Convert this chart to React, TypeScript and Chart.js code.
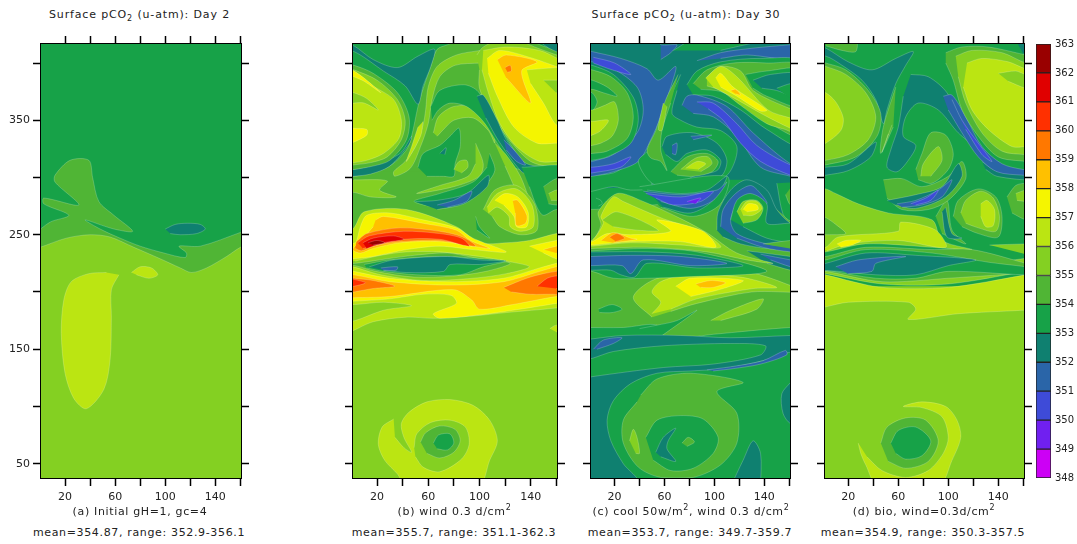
import React, { useEffect, useRef } from "react";
import { Chart, registerables } from "chart.js";
Chart.register(...registerables);

const LEVELS = [348,349,350,351,352,353,354,355,356,357,358,359,360,361,362];
const COLORS = ["#cc00f5","#7020f0","#3e4bd8","#2a65a8","#0f8070","#17a248","#50b535","#84d022","#bbe512","#f5f500","#ffc000","#ff7800","#ff3000","#e00000","#990000"];
const colorOf = (l:number)=>COLORS[l-348];
const X_TICKS = [20,40,60,80,100,120,140,160];
const X_LABELS = [20,60,100,140];
const Y_TICKS = [50,100,150,200,250,300,350,400];
const Y_LABELS = [50,150,250,350];
const ALL = [-10,430, 170,430, 170,20, -10,20];

type S = [number, number[], number?];

const panelA: S[] = [
[353,ALL,0],
[354,[-5,250, 8,261, 23,267, 3,277, 3,282, 31,276, 12,296, 12,302, 24,315, 39,315, 42,300, 47,279, 59,267, 74,253, 59,255, 36,263, 48,255, 64,247, 80,240, 99,234, 116,230, 117,234, 111,240, 128,240, 160,252, 170,256, 170,200, -10,200]],
[355,[-10,236, 0,239, 21,247, 40,250, 56,248, 75,239, 96,229, 112,221, 121,217, 133,221, 149,231, 160,239, 170,243, 170,20, -10,20]],
[352,[100,255, 108,259, 118,260, 128,259, 132,255, 125,251, 112,250, 104,251]],
[356,[63,215, 57,202, 57,178, 56,141, 51,115, 37,98, 27,107, 20,129, 17,164, 19,193, 25,209, 39,216, 53,217]],
[356,[73,217, 80,222, 89,221, 94,215, 87,212, 77,215]],
];

const panelB: S[] = [
[355,ALL,0],
[354,[-10,300, 170,300, 170,430, -10,430, -10,300],0],
[354,[-10,245, 170,240, 170,305, -10,305],0],
[356,[-5,163, 1,166, 17,174, 43,178, 64,177, 95,179, 121,182, 160,186, 170,188, 170,252, 160,251, 139,245, 121,243, 100,243, 82,257, 43,272, 10,270, 2,256, -5,250]],
[355,[-5,174, 3,175, 25,184, 47,188, 25,191, 3,189, -5,189]],
[356,[155,168, 160,171, 165,168, 160,165]],
[357,[-5,192, 2,192, 30,194, 56,198, 78,197, 82,190, 64,181, 69,177, 100,180, 126,184, 160,190, 170,192, 170,228, 160,225, 147,221, 119,212, 77,209, 30,212, 2,218, -5,220]],
[358,[-5,215, 2,215, 30,209, 77,206, 119,209, 147,218, 160,222, 170,224, 170,196, 160,196, 126,189, 100,185, 94,193, 80,202, 30,196, 2,195, -5,195]],
[359,[-5,213, 2,212, 17,210, 34,205, 17,203, 2,200, -5,199]],
[360,[-5,213, 2,211, 11,208, 2,205, -5,204]],
[359,[119,204, 137,212, 150,216, 160,218, 170,220, 170,197, 158,198, 140,198, 125,200]],
[360,[145,205, 153,212, 160,214, 170,215, 170,203, 160,203]],
[355,[3,227, 23,232, 43,235, 69,235, 100,231, 121,227, 139,222, 121,216, 95,212, 56,210, 23,215, 1,222, -5,222, -5,227]],
[354,[-5,225, 3,225, 28,229, 49,232, 75,234, 100,229, 124,225, 105,218, 80,214, 49,213, 19,218, 3,223, -5,223]],
[353,[10,224, 30,228, 69,231, 103,229, 121,227, 103,222, 85,215, 51,215, 25,218, 12,221]],
[352,[14,222, 33,228, 75,231, 100,228, 120,227, 100,224, 77,224, 72,218, 43,217, 25,219]],
[351,[23,221, 36,222, 35,219, 25,219]],
[357,[-5,243, 3,243, 7,257, 12,267, 30,269, 56,263, 82,256, 95,247, 121,235, 95,237, 69,240, 43,237, 17,231, 1,229, -5,229]],
[358,[19,263, 25,266, 56,260, 82,254, 93,245, 108,238, 95,240, 69,244, 38,243, 17,238, 7,234, 1,237, 10,248, 17,257]],
[359,[4,244, 12,251, 38,256, 69,253, 87,248, 97,240, 69,245, 38,244, 17,240, 8,236, 3,238]],
[360,[5,243, 14,249, 41,253, 69,251, 86,247, 92,240, 69,246, 41,246, 20,241, 9,238]],
[361,[9,243, 17,247, 33,249, 41,246, 25,243, 12,238]],
[362,[13,243, 20,245, 26,243, 17,241]],
[357,[139,240, 160,245, 170,247, 170,228, 160,229, 150,234]],
[358,[150,237, 160,240, 170,241, 170,233, 160,234]],
[356,[33,89, 24,82, 21,67, 26,53, 36,41, 43,30, 99,30, 108,53, 114,70, 108,88, 95,101, 77,106, 59,104, 45,95, 39,85, 41,73, 47,60, 41,64, 34,73]],
[355,[49,64, 51,76, 62,86, 77,88, 89,82, 92,67, 86,54, 69,43, 56,47, 50,56]],
[354,[54,69, 58,77, 69,83, 81,80, 85,70, 80,60, 69,55, 59,59]],
[353,[64,68, 68,75, 77,76, 80,68, 75,62, 67,63]],
[353,[-5,422, 77,420, 77,417, 67,412, 62,397, 55,374, 52,362, 47,336, 43,324, 30,310, 15,304, 2,301, -5,300]],
[352,[-5,416, 2,415, 17,403, 36,396, 52,406, 65,412, 62,397, 56,380, 52,364, 42,380, 25,393, 2,410, -5,408]],
[352,[-5,307, 2,307, 17,311, 38,321, 47,336, 45,329, 30,310, 15,303, 2,301, -5,300]],
[354,[-5,399, 2,398, 17,391, 36,374, 45,353, 43,333, 30,315, 17,310, 2,307, -5,306]],
[355,[-5,396, 2,394, 20,385, 36,368, 42,350, 39,333, 28,318, 15,313, 2,311, -5,310]],
[356,[-5,395, 2,393, 17,380, 33,368, 39,350, 37,334, 25,321, 12,315, 2,313, -5,312]],
[357,[-5,396, 2,393, 12,385, 23,374, 10,384, 2,388, -5,391]],
[355,[-5,376, 2,374, 12,369, 21,359, 10,365, 2,365, -5,363]],
[357,[-5,344, 2,343, 12,342, 12,337, 2,331, -5,328]],
[355,[2,298, 28,297, 22,289, 35,283, 15,283, 2,287, -5,286, -5,299]],
[355,[100.5,411, 82,407, 67,397, 60,379, 58,359, 56,346, 50,327, 42,314, 33,305, 34,301, 46,308, 54,327, 60,347, 63,368, 69,388, 81,398, 101,400]],
[356,[56,349, 54,336, 43,314, 47,327, 52,344]],
[355,[98,407, 103,414, 120,422, 170,422, 170,308, 158,309, 140,314, 121,336, 108,359, 100,378, 100,394]],
[356,[103,411, 121,414, 147,411, 163,403, 170,400, 170,312, 163,314, 147,314, 129,327, 116,347, 107,374, 102,394]],
[357,[106,404, 116,411, 142,404, 160,397, 170,394, 170,330, 160,330, 145,330, 127,344, 114,371, 107,391]],
[356,[137,394, 160,396, 170,396, 170,343, 160,346, 150,365, 140,382]],
[355,[150,385, 160,385, 170,385, 170,372, 160,374]],
[358,[114,403, 121,407, 145,401, 133,393, 140,365, 121,387]],
[359,[120,396, 124,398, 125,393, 122,392]],
[354,[137,420, 137,417, 163,406, 170,404, 170,420]],
[353,[145,420, 145,417, 163,410, 170,407, 170,420]],
[352,[149,420, 149,417, 160,410, 170,408, 170,420]],
[355,[64,339, 68,353, 80,362, 98,361, 110,344, 112,330, 107,341, 95,352, 80,350, 72,342, 67,336]],
[353,[62,362, 69,376, 88,381, 99,375, 116,344, 133,314, 140,306, 127,309, 114,330, 103,349, 90,362, 77,365, 68,359, 63,350]],
[352,[98,371, 103,372, 114,350, 121,333, 137,312, 163,310, 170,310, 170,300, 163,300, 140,303, 133,305, 115,332, 105,352]],
[351,[119,333, 127,324, 136,311, 129,314, 121,324]],
[353,[133,309, 170,308, 170,270, 160,272, 150,267, 145,274, 139,292]],
[354,[150,292, 160,299, 170,299, 170,277, 160,276, 154,277]],
[355,[154,286, 160,289, 170,289, 170,280, 160,280, 156,280]],
[355,[112,330, 120,321, 132,301, 140,274, 134,277, 120,310]],
[353,[52,309, 56,321, 69,328, 77,336, 84,343, 85,327, 81,312, 80,301, 72,301, 59,301]],
[352,[69,321, 74,326, 73,320]],
[355,[80,307, 84,314, 90,315, 91,309, 86,304]],
[355,[97,330, 103,312, 100,301, 80,292, 51,286, 69,293, 91,301, 97,312]],
[353,[108,321, 112,306, 103,292, 77,274, 49,279, 69,286, 95,296, 106,309]],
[352,[50,279, 67,280, 90,286, 107,302, 106,292, 88,277, 67,272]],
[351,[67,276, 80,280, 94,288, 90,279, 75,274]],
[355,[103,272, 112,289, 129,293, 143,277, 145,254, 132,250, 116,257, 110,266]],
[356,[106,274, 114,286, 129,290, 141,276, 142,257, 132,253, 124,257, 123,266, 114,274, 107,269]],
[357,[112,280, 120,286, 130,283, 138,270, 137,257, 129,257, 127,266, 119,276]],
[358,[126,280, 130,280, 137,267, 136,260, 129,258, 128,269]],
[353,[97,266, 100,257, 108,247, 98,254]],
];

const panelC: S[] = [
[353,ALL,0],
[354,[-5,169, 27,169, 54,171, 53,158, 99,163, 161,169, 170,168, 170,272, -5,272]],
[353,[53,158, 86,184, 70,175, 54,171, 40,168]],
[355,[97,175, 113,184, 139,194, 134,185, 105,175]],
[353,[7,185, 18,189, 26,185, 18,182, 8,182]],
[352,[-5,158, 2,159, 27,162, 73,162, 113,160, 161,162, 170,162, 170,148, 159,147, 139,140, 107,133, 81,131, 54,129, 33,120, 19,105, 14,88, 17,70, 27,50, 38,35, -5,30]],
[353,[-5,141, 2,142, 19,148, 59,153, 113,155, 141,153, 137,145, 99,137, 59,134, 2,126, -5,124]],
[351,[3,150, 11,158, 26,160, 19,155, 6,150]],
[351,[94,132, 115,135, 139,140, 157,149, 158,145, 137,137, 115,133, 99,131]],
[354,[41,110, 54,124, 81,129, 123,121, 102,113, 118,94, 118,68, 105,49, 83,38, 57,38, 39,47, 27,68, 27,88, 38,104]],
[353,[45,73, 54,88, 73,92, 91,89, 103,73, 99,59, 83,46, 65,44, 51,53]],
[352,[53,60, 59,73, 69,81, 63,70, 62,63, 69,52, 57,56]],
[354,[74,68, 79,73, 84,69, 78,65]],
[355,[32,70, 35,80, 38,73, 40,59, 37,59]],
[352,[113,30, 123,53, 131,70, 137,59, 137,30]],
[352,[161,121, 154,111, 155,94, 161,85, 170,85, 170,121]],
[355,[50,178, 35,195, 50,210, 80,218, 125,218, 165,204, 170,200, 130,200, 86,190, 65,183]],
[356,[50,181, 57,191, 50,200, 57,209, 78,215, 121,213, 150,204, 131,203, 86,194, 65,185]],
[357,[69,205, 81,212, 123,210, 107,203, 81,196]],
[358,[85,207, 97,210, 109,208, 99,204, 89,204]],
[353,[-5,236, 2,236, 46,238, 86,235, 142,218, 73,213, 46,212, 19,212, 2,218, -5,218]],
[352,[-5,235, 2,235, 46,235, 86,232, 123,223, 86,221, 46,225, 36,213, 25,215, 17,219, 2,219, -5,219]],
[351,[-5,231, 2,231, 33,232, 73,231, 110,225, 81,223, 43,228, 33,216, 26,223, 2,223, -5,223]],
[352,[126,236, 161,231, 170,230, 170,218, 161,219, 142,225]],
[351,[137,233, 161,228, 170,226, 170,220, 161,222, 145,228]],
[355,[-5,245, 2,245, 9,258, 7,270, 22,286, 41,280, 75,263, 95,251, 118,234, 147,225, 126,228, 94,235, 46,239, 2,238, -5,238]],
[356,[-5,245, 2,245, 11,260, 9,266, 19,283, 27,279, 59,264, 89,253, 105,239, 73,241, 33,243, 2,240, -5,240]],
[355,[10,263, 22,270, 55,254, 38,254, 19,257]],
[357,[-5,244, 2,244, 14,251, 33,250, 65,253, 54,263, 91,253, 101,239, 73,244, 33,244, 2,241, -5,241]],
[358,[9,245, 19,252, 33,247, 38,246, 19,243]],
[359,[16,248, 22,251, 28,247, 21,244]],
[353,[5,282, 9,280, 10,277, 7,275]],
[352,[-5,425, 170,425, 170,262, 161,262, 150,272, 126,298, 110,298, 45,292, -5,290],0],
[353,[-5,304, 2,302, 19,304, 39,314, 50,292, 33,289, 19,292, 2,288, -5,287]],
[351,[-5,412, 2,410, 25,404, 46,395, 55,385, 69,397, 65,379, 57,353, 49,333, 39,314, 19,305, 2,301, -5,300, -5,312, 2,314, 19,320, 38,339, 43,359, 38,379, 19,395, 2,401, -5,400]],
[350,[-5,310, 2,309, 19,312, 33,318, 25,309, 2,304, -5,303]],
[350,[3,405, 20,400, 33,390, 18,394, 3,400]],
[353,[-5,399, 2,398, 19,390, 35,370, 39,350, 33,330, 14,318, 2,315, -5,314]],
[354,[-5,395, 2,394, 17,388, 30,374, 35,353, 30,334, 14,323, 2,321, -5,320]],
[353,[-5,386, 2,385, 14,379, 22,371, 11,374, 2,377, -5,376]],
[353,[-5,376, 2,374, 6,366, 2,358, -5,356]],
[355,[-5,360, 2,359, 12,363, 20,366, 23,350, 18,336, 9,330, 2,328, -5,327]],
[356,[-5,350, 2,349, 15,350, 9,341, 2,337, -5,335]],
[351,[57,420, 57,416, 70,416, 65,409, 57,403]],
[353,[67,411, 83,420, 137,420, 105,411]],
[351,[86,402, 105,409, 131,413, 161,416, 170,417, 170,403, 126,407, 105,404]],
[353,[78,381, 86,393, 105,401, 137,404, 170,400, 170,328, 142,342, 121,359, 99,371, 83,372]],
[354,[83,382, 94,394, 115,400, 142,400, 170,397, 170,336, 145,347, 126,363, 105,375, 89,377]],
[355,[94,388, 105,397, 121,393, 131,376, 161,360, 170,358, 170,330, 161,340, 142,347, 121,363, 105,376, 94,380]],
[356,[93,387, 105,397, 118,388, 143,359, 161,352, 170,350, 170,340, 161,343, 139,355, 118,368, 99,379]],
[357,[101,387, 105,391, 115,379, 142,359, 137,358, 118,371, 105,379]],
[358,[113,376, 117,377, 121,372, 117,373]],
[353,[125,390, 142,393, 170,394, 170,362, 142,371, 131,378]],
[352,[131,385, 145,390, 170,390, 170,369, 150,376, 138,378]],
[353,[150,378, 161,382, 170,382, 170,369, 161,369]],
[351,[74,363, 78,371, 86,372, 110,362, 131,339, 161,312, 170,312, 170,298, 161,301, 137,309, 118,336, 99,353, 83,356]],
[350,[86,366, 99,365, 118,347, 134,328, 161,311, 170,311, 170,301, 161,302, 137,314, 121,330, 107,350, 95,360]],
[353,[150,295, 155,268, 161,262, 170,262, 170,296]],
[354,[161,291, 170,291, 170,275, 161,276, 157,285]],
[353,[73,390, 65,371, 57,350, 47,324, 39,314, 50,295, 73,289, 99,293, 113,306, 118,327, 105,341, 86,344, 73,350, 66,356, 70,376]],
[354,[71,390, 61,368, 53,341, 46,324, 49,317, 57,314, 62,306, 57,324, 58,341, 65,365]],
[355,[59,365, 55,342, 58,341, 62,362]],
[352,[58,327, 62,336, 83,339, 102,330, 110,315, 105,301, 73,292, 83,301, 102,306, 105,315, 94,324, 78,321, 70,314, 61,320]],
[351,[66,328, 70,330, 69,320, 66,321]],
[351,[81,336, 98,337, 83,333]],
[354,[65,305, 78,318, 94,321, 103,314, 98,305, 83,301, 70,302]],
[355,[73,307, 85,317, 95,318, 98,312, 89,305]],
[356,[77,308, 86,314, 93,312, 87,307]],
[353,[40,292, 110,301, 105,277, 83,266, 57,274]],
[352,[46,289, 73,286, 94,289, 110,301, 99,280, 81,269, 59,274]],
[351,[43,288, 73,285, 102,289, 110,296, 99,280, 81,273, 57,279]],
[350,[45,286, 73,283, 99,288, 89,279, 67,276, 53,282]],
[349,[78,279, 89,282, 85,277]],
[352,[102,254, 103,270, 113,289, 126,298, 142,289, 150,272, 161,260, 170,258, 170,236, 161,237, 142,238, 121,242, 107,248]],
[351,[105,257, 107,272, 117,286, 129,293, 137,286, 142,277, 121,280, 113,263, 118,251, 142,242, 161,240, 170,240, 170,235, 161,235, 139,239, 118,247]],
[353,[113,263, 118,280, 129,286, 142,277, 142,260, 161,260, 170,258, 170,243, 161,243, 142,247, 123,257]],
[355,[118,270, 123,279, 134,280, 139,273, 134,263, 123,260]],
[356,[121,272, 126,279, 134,279, 138,273, 131,267, 123,267]],
[357,[123,272, 127,277, 134,276, 135,272, 126,270]],
[354,[139,242, 161,245, 170,245, 170,238, 161,238]],
];

const panelD: S[] = [
[355,ALL,0],
[356,[28,68, 30,59, 34,49, 44,30, 92,30, 103,53, 110,73, 107,88, 98,100, 79,104, 64,100, 79,99, 95,91, 100,73, 96,59, 84,44, 66,38, 47,44, 35,56]],
[354,[46,68, 51,82, 66,90, 82,88, 92,70, 84,52, 66,46, 52,52]],
[353,[54,68, 60,79, 74,82, 86,70, 79,57, 66,54, 58,59]],
[353,[-10,430, 170,430, 170,205, -10,205],0],
[356,[-5,185, 2,187, 20,191, 68,191, 74,185, 68,176, 108,181, 159,184, 170,185, 170,217, 162,215, 100,204, 47,204, 2,215, -5,217]],
[355,[-5,217, 2,216, 47,207, 100,207, 162,218, 170,220, 170,230, 100,218, 50,215, 2,225, -5,225]],
[355,[-5,290, 2,290, 10,286, 28,277, 52,269, 87,263, 95,245, 119,237, 87,239, 34,242, 2,235, -5,235]],
[354,[-5,268, 2,265, 10,259, 18,251, 5,250, 2,250, -5,250]],
[356,[-5,238, 2,239, 12,248, 60,253, 62,261, 90,254, 98,239, 60,245, 20,242, 3,236]],
[357,[11,242, 18,245, 30,245, 23,241, 14,239]],
[354,[-5,231, 2,231, 34,239, 87,237, 119,237, 162,225, 170,222, 170,218, 100,212, 47,209, 2,218, -5,218]],
[353,[-5,228, 2,228, 34,237, 87,234, 132,226, 162,222, 170,220, 170,215, 100,218, 74,212, 42,212, 2,219, -5,219]],
[352,[-5,224, 2,225, 34,234, 74,232, 122,228, 100,223, 74,215, 42,215, 12,218, -5,219]],
[351,[10,222, 28,228, 66,231, 42,225, 39,218, 20,216]],
[355,[133,241, 162,242, 170,242, 170,233, 162,233]],
[354,[104,266, 108,280, 124,290, 138,283, 143,266, 140,248, 124,251, 111,257]],
[355,[110,269, 114,280, 126,288, 136,282, 141,266, 138,253, 124,256, 114,260]],
[356,[126,277, 131,280, 137,272, 136,258, 130,257, 126,266]],
[354,[90,266, 99,280, 103,254, 114,242, 95,251]],
[352,[98,274, 103,251, 111,247, 99,248, 95,270]],
[354,[147,283, 154,293, 162,295, 170,295, 170,263, 162,263, 151,269]],
[355,[154,286, 162,289, 170,289, 170,279, 162,279, 155,280]],
[354,[48,298, 63,299, 79,292, 100,301, 111,314, 114,299, 100,280, 84,272, 63,272, 51,282]],
[352,[51,280, 74,285, 95,292, 108,312, 111,301, 98,283, 74,273, 58,276]],
[351,[59,277, 74,280, 92,289, 103,298, 95,283, 79,276, 63,274]],
[350,[70,277, 82,282, 92,289, 86,280, 74,276]],
[352,[-5,414, 2,413, 20,401, 39,394, 58,404, 72,410, 66,398, 58,382, 51,359, 48,347, 42,368, 31,385, 15,398, 2,406, -5,404]],
[352,[70,390, 84,388, 99,374, 111,347, 119,330, 108,339, 92,359, 76,365, 66,353, 64,336, 74,328, 68,315, 59,305, 51,309, 54,324, 60,344, 64,371]],
[354,[58,379, 48,344, 46,321, 56,344]],
[355,[55,346, 47,322, 52,338]],
[352,[127,314, 138,306, 160,304, 170,304, 170,298, 139,301, 130,307]],
[351,[96,371, 103,372, 114,353, 127,327, 143,312, 160,307, 170,307, 170,302, 160,302, 139,305, 124,318, 111,339, 100,359]],
[350,[103,368, 111,350, 124,330, 135,314, 127,320, 114,342]],
[352,[-5,309, 2,309, 20,312, 42,331, 38,318, 20,306, 2,302, -5,301]],
[354,[-5,402, 2,400, 18,394, 36,376, 46,356, 43,336, 26,318, 2,311, -5,310]],
[355,[-5,399, 2,397, 18,390, 34,374, 42,353, 36,333, 20,320, 2,315, -5,314]],
[356,[-5,376, 2,374, 10,366, 16,352, 14,341, 2,330, -5,328]],
[354,[98,409, 111,414, 132,414, 162,407, 170,405, 170,313, 162,314, 140,318, 124,336, 111,359, 104,385, 98,400]],
[355,[106,406, 119,411, 143,409, 162,400, 170,400, 170,320, 162,320, 143,323, 127,339, 114,365, 108,388]],
[356,[115,400, 127,404, 148,401, 162,395, 170,395, 170,327, 162,327, 151,327, 132,342, 119,359, 112,379]],
[355,[140,391, 154,393, 162,390, 170,390, 170,378, 162,378, 148,384]],
[354,[2,420, 26,420, 26,410, 15,411, 2,415]],
[352,[154,420, 170,420, 170,408, 160,408]],
[354,[74,307, 79,321, 86,339, 98,337, 104,321, 100,307, 87,295, 76,298]],
[355,[78,301, 80,312, 92,327, 95,315, 86,301]],
];

function Panel({left,width,xr,shapes,labelsY}:{left:number,width:number,xr:number[],shapes:S[],labelsY:boolean}){
  const ref = useRef<HTMLCanvasElement>(null);
  useEffect(()=>{
    const datasets = shapes.map(([lvl,arr,t],i)=>({
      data: arr.reduce((acc:any[],v:number,j:number)=> { if(j%2===0) acc.push({x:v,y:arr[j+1]}); return acc; },[]),
      showLine:true, fill:"shape", backgroundColor:colorOf(lvl), borderColor:"rgba(255,255,255,0.25)", borderWidth:t===0?0:0.8,
      pointRadius:0, tension:t===0?0:0.3, order:shapes.length-i,
    }));
    const fit=(w:number|null,h:number|null)=>(s:any)=>{ if(w!==null)s.width=w; if(h!==null)s.height=h; s.paddingLeft=s.paddingRight=s.paddingTop=s.paddingBottom=0; };
    const set=(vals:number[])=>(s:any)=>{ s.ticks=vals.map(value=>({value})); };
    const grid={drawOnChartArea:false,tickLength:8,tickColor:"#000",tickWidth:1.5};
    const border={color:"#000",width:2};
    const font={family:"DejaVu Sans",size:11};
    const c=new Chart(ref.current!,{type:"scatter",data:{datasets} as any,options:{
      animation:false,responsive:false,events:[],layout:{padding:0},
      plugins:{legend:{display:false},tooltip:{enabled:false}},
      scales:{
        x:{type:"linear",position:"bottom",min:xr[0],max:xr[1],afterBuildTicks:set(X_TICKS),afterFit:fit(null,30),grid,border,ticks:{autoSkip:false,maxRotation:0,padding:5,font,color:"#222",callback:(v:any)=>X_LABELS.includes(v)?String(v):""}},
        x2:{type:"linear",position:"top",min:xr[0],max:xr[1],afterBuildTicks:set(X_TICKS),afterFit:fit(null,10),grid,border,ticks:{autoSkip:false,display:false}},
        y:{type:"linear",position:"left",min:37.5,max:416.6,afterBuildTicks:set(Y_TICKS),afterFit:fit(labelsY?41:10,null),grid,border,ticks:{autoSkip:false,padding:3,font,color:"#222",display:labelsY,callback:(v:any)=>Y_LABELS.includes(v)?String(v):""}},
        y2:{type:"linear",position:"right",min:37.5,max:416.6,afterBuildTicks:set(Y_TICKS),afterFit:fit(10,null),grid,border,ticks:{autoSkip:false,display:false}},
      }
    } as any});
    return ()=>c.destroy();
  },[]);
  return <canvas ref={ref} width={width} height={474} style={{position:"absolute",left,top:34,width,height:474,display:"block"}}/>;
}

function ColorBar(){
  const ref = useRef<HTMLCanvasElement>(null);
  useEffect(()=>{
    const c=new Chart(ref.current!,{type:"bar",data:{labels:["k"],datasets:LEVELS.map((l,i)=>({data:[[l,l+1]],backgroundColor:COLORS[i],borderColor:"#222",borderWidth:1,borderSkipped:false,barPercentage:1,categoryPercentage:1,grouped:false}))} as any,options:{
      animation:false,responsive:false,events:[],layout:{padding:{top:8,bottom:8,left:0,right:0}},
      plugins:{legend:{display:false},tooltip:{enabled:false}},
      scales:{
        x:{display:false},
        y:{position:"right",min:348,max:363,afterFit:(s:any)=>{s.width=26;s.paddingTop=s.paddingBottom=0;},grid:{display:false,drawTicks:false},border:{display:false},ticks:{stepSize:1,padding:4,color:"#222",font:{family:"DejaVu Sans",size:10}}}
      }
    } as any});
    return ()=>c.destroy();
  },[]);
  return <canvas ref={ref} width={41} height={450} style={{position:"absolute",left:1036,top:36,width:41,height:450}}/>;
}

const T=({x,y,sp=0.65,children}:{x:number,y:number,sp?:number,children:any})=><div style={{position:"absolute",left:x-150,top:y-7,width:300,textAlign:"center",font:"11px 'DejaVu Sans'",letterSpacing:sp+"px",color:"#222",lineHeight:"16px",whiteSpace:"nowrap"}}>{children}</div>;
const Sub=()=> <sub style={{fontSize:8,lineHeight:0}}>2</sub>;
const Sup=()=> <sup style={{fontSize:8,lineHeight:0}}>2</sup>;

export default function App(){
  return <div style={{position:"absolute",left:0,top:0,width:1077,height:544,overflow:"hidden",background:"#fff"}}>
    <Panel left={0} width={251} xr={[0.8,160.5]} shapes={panelA} labelsY={true}/>
    <Panel left={343} width={224} xr={[1.25,160.6]} shapes={panelB} labelsY={false}/>
    <Panel left={581} width={219} xr={[1.1,160.6]} shapes={panelC} labelsY={false}/>
    <Panel left={815} width={219} xr={[1.4,160.6]} shapes={panelD} labelsY={false}/>
    <ColorBar/>
    <T x={139.5} y={14} sp={0.85}>Surface pCO<Sub/> (u-atm): Day 2</T>
    <T x={686} y={14} sp={0.85}>Surface pCO<Sub/> (u-atm): Day 30</T>
    <T x={140} y={511}>(a) Initial gH=1, gc=4</T>
    <T x={454.5} y={511}>(b) wind 0.3 d/cm<Sup/></T>
    <T x={691} y={511}>(c) cool 50w/m<Sup/>, wind 0.3 d/cm<Sup/></T>
    <T x={924} y={511}>(d) bio, wind=0.3d/cm<Sup/></T>
    <T x={139} y={532}>mean=354.87, range: 352.9-356.1</T>
    <T x={454} y={532}>mean=355.7, range: 351.1-362.3</T>
    <T x={690} y={532}>mean=353.7, range: 349.7-359.7</T>
    <T x={923} y={532}>mean=354.9, range: 350.3-357.5</T>
  </div>;
}
